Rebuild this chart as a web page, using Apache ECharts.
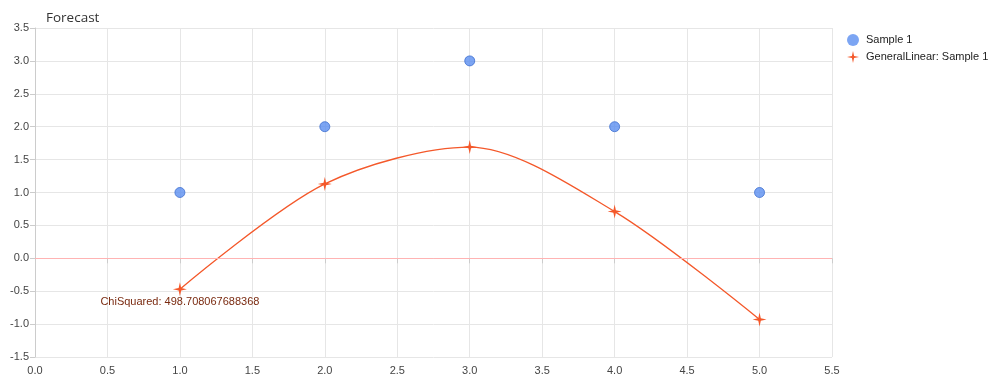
<!DOCTYPE html>
<html><head><meta charset="utf-8">
<script src="https://cdn.jsdelivr.net/npm/echarts@6/dist/echarts.min.js"></script>
<style>html,body{margin:0;padding:0;background:#fff}#c{width:990px;height:383px}</style>
</head><body><div id="c"></div>
<script>
const sampleX = [1, 2, 3, 4, 5];
const sampleY = [1, 2, 3, 2, 1];
const fitX = [1, 2, 3, 4, 5];
const fitY = [-0.47, 1.13, 1.69, 0.71, -0.93];
const chiLabel = 'ChiSquared: 498.708067688368';
const starPath = 'path://M0,-10 L1.8,-1.8 L10,0 L1.8,1.8 L0,10 L-1.8,1.8 L-10,0 L-1.8,-1.8 Z';
const chart = echarts.init(document.getElementById('c'));
chart.setOption({
  animation: false,
  title: { text: 'Forecast', left: 41, top: 6, textStyle: { fontSize: 13.5, fontWeight: 'normal', color: '#333', fontFamily: 'Open Sans' } },
  legend: {
    orient: 'vertical', left: 842, top: 29, itemGap: 5, itemWidth: 16, itemHeight: 12,
    textStyle: { fontSize: 11, color: '#222', fontFamily: 'Arial' },
    data: [
      { name: 'Sample 1', icon: 'circle', itemStyle: { borderWidth: 0 } },
      { name: 'GeneralLinear: Sample 1', icon: starPath }
    ]
  },
  grid: { left: 35, right: 158, top: 28, bottom: 26 },
  xAxis: {
    type: 'value', min: 0, max: 5.5, interval: 0.5,
    axisLine: { lineStyle: { color: '#ccc' } },
    axisTick: { show: true, lineStyle: { color: '#ccc' } },
    axisLabel: { formatter: v => v.toFixed(1), color: '#444', fontSize: 11, fontFamily: 'Arial' },
    splitLine: { lineStyle: { color: '#e6e6e6' } }
  },
  yAxis: {
    type: 'value', min: -1.5, max: 3.5, interval: 0.5,
    axisLine: { show: true, lineStyle: { color: '#ccc' } },
    axisTick: { show: true, lineStyle: { color: '#ccc' } },
    axisLabel: { formatter: v => v.toFixed(1), color: '#444', fontSize: 11, fontFamily: 'Arial', margin: 6 },
    splitLine: { lineStyle: { color: '#e6e6e6' } }
  },
  series: [
    {
      name: 'Sample 1', type: 'scatter', symbol: 'circle', symbolSize: 10,
      itemStyle: { color: '#5b8ff0', borderColor: '#3f6fd0', borderWidth: 1 },
      data: sampleX.map((x, i) => [x, sampleY[i]])
    },
    {
      name: 'GeneralLinear: Sample 1', type: 'line', smooth: 0.3,
      symbol: starPath, symbolSize: 14, showAllSymbol: true,
      lineStyle: { color: '#f4582a', width: 1.3 },
      itemStyle: { color: '#f4582a' },
      data: fitX.map((x, i) => i === 0 ? {
        value: [x, fitY[i]],
        label: { show: true, position: 'bottom', distance: 0, formatter: chiLabel, color: '#7a2a10', fontSize: 11, fontFamily: 'Arial' }
      } : [x, fitY[i]]),
      markLine: {
        silent: true, symbol: 'none', label: { show: false },
        lineStyle: { color: '#ffb3b3', type: 'solid', width: 1 },
        data: [{ yAxis: 0 }]
      }
    }
  ]
});
</script></body></html>
